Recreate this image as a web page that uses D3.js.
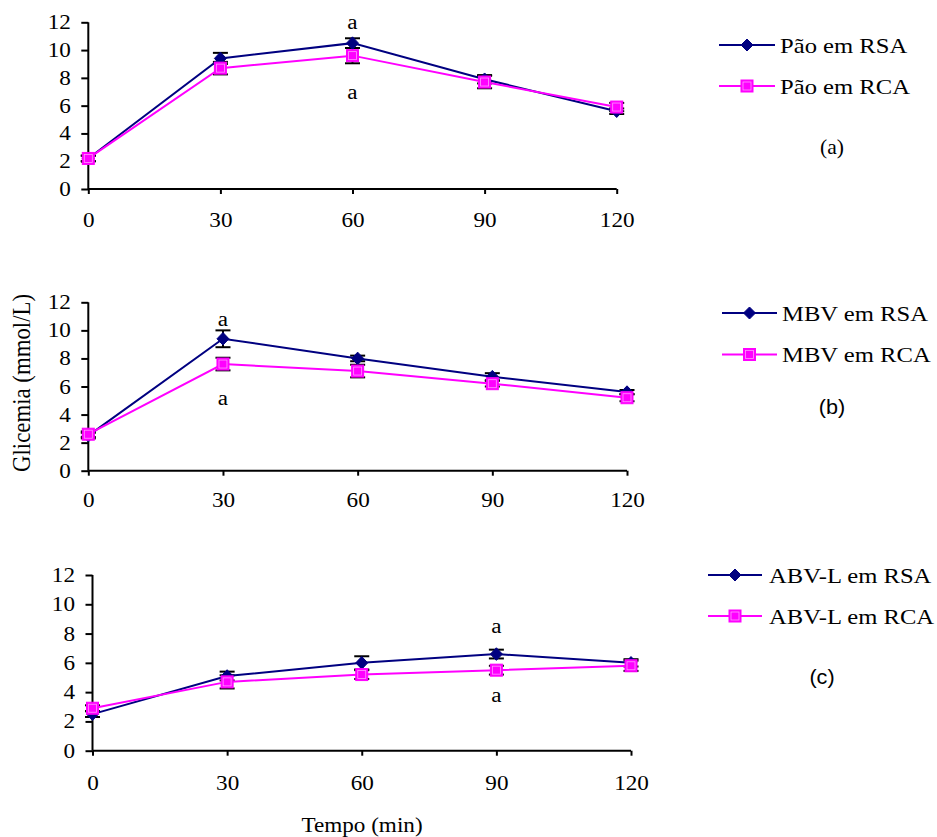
<!DOCTYPE html>
<html>
<head>
<meta charset="utf-8">
<script src="https://cdn.jsdelivr.net/npm/d3@7"></script>
<style>
  html, body { margin: 0; padding: 0; background: #fff; }
  svg { display: block; }
</style>
</head>
<body>
<svg id="chart" width="937" height="837"></svg>
<script>
// Sampling times (min) and value ticks
const times = [0, 30, 60, 90, 120];
const yTicks = [0, 2, 4, 6, 8, 10, 12];

// Panel (a): bread
const paoRSA = [2.2, 9.4, 10.5, 7.9, 5.6];
const paoRSAErr = [0.2, 0.4, 0.35, 0.3, 0.2];
const paoRCA = [2.2, 8.7, 9.6, 7.7, 5.9];
const paoRCAErr = [0.2, 0.45, 0.55, 0.45, 0.3];

// Panel (b): MBV
const mbvRSA = [2.5, 9.4, 8.0, 6.7, 5.6];
const mbvRSAErr = [0.2, 0.6, 0.2, 0.25, 0.15];
const mbvRCA = [2.6, 7.6, 7.1, 6.2, 5.2];
const mbvRCAErr = [0.2, 0.45, 0.45, 0.2, 0.25];

// Panel (c): ABV-L
const abvRSA = [2.5, 5.1, 6.0, 6.6, 6.0];
const abvRSAErr = [0.2, 0.3, 0.45, 0.3, 0.25];
const abvRCA = [2.9, 4.7, 5.2, 5.5, 5.8];
const abvRCAErr = [0.2, 0.45, 0.3, 0.3, 0.35];

const legendLabels = [
  ["Pão em RSA", "Pão em RCA"],
  ["MBV em RSA", "MBV em RCA"],
  ["ABV-L em RSA", "ABV-L em RCA"]
];
const panelTags = ["(a)", "(b)", "(c)"];
// significance marks: index of the time point carrying the "a"
const markIndex = [2, 1, 3];

const NAVY = "#000080", MAGENTA = "#ff00ff";
const SERIF = "'Liberation Serif', 'Times New Roman', serif";
const SANS = "'Liberation Sans', Arial, sans-serif";
const SX = 1.13;      // horizontal stretch of the lettering
const FS = 20.5;      // base font size

const svg = d3.select("#chart");

const panels = [
  { rsa: paoRSA, rsaE: paoRSAErr, rca: paoRCA, rcaE: paoRCAErr,
    x0: 88.3, x1: 616.7, yTop: 22.3, yBot: 189, xPad: 18,
    leg: { x1: 719, x2: 775, y: 45, gap: 41, tx: 780 }, tag: { x: 832, y: 147, font: SERIF },
    up: 20.5, down: 37 },
  { rsa: mbvRSA, rsaE: mbvRSAErr, rca: mbvRCA, rcaE: mbvRCAErr,
    x0: 88.3, x1: 627, yTop: 302.3, yBot: 470.7, xPad: 17,
    leg: { x1: 722, x2: 777, y: 313, gap: 41.5, tx: 782 }, tag: { x: 832, y: 407, font: SANS },
    up: 19, down: 34 },
  { rsa: abvRSA, rsaE: abvRSAErr, rca: abvRCA, rcaE: abvRCAErr,
    x0: 92.5, x1: 631, yTop: 575, yBot: 750.7, xPad: 20,
    leg: { x1: 708, x2: 762, y: 575, gap: 41, tx: 769 }, tag: { x: 822, y: 677, font: SANS },
    up: 27.5, down: 25 }
];

function diamond(g, x, y, w, h) {
  g.append("path")
    .attr("d", `M${x},${y - h}L${x + w},${y}L${x},${y + h}L${x - w},${y}Z`)
    .attr("fill", NAVY).attr("stroke", NAVY).attr("stroke-width", 1);
}
function square(g, x, y, w, h) {
  g.append("rect").attr("x", x - w).attr("y", y - h).attr("width", 2 * w).attr("height", 2 * h)
    .attr("fill", MAGENTA).attr("stroke", MAGENTA).attr("stroke-width", 1);
  g.append("rect").attr("x", x - w + 2).attr("y", y - h + 2).attr("width", 2 * w - 4).attr("height", 2 * h - 4)
    .attr("fill", "none").attr("stroke", "#ff99ff").attr("stroke-width", 0.8);
}

panels.forEach((p, pi) => {
  const x = d3.scaleLinear().domain([0, 120]).range([p.x0, p.x1]);
  const y = d3.scaleLinear().domain([0, 12]).range([p.yBot, p.yTop]);
  const g = svg.append("g");

  // axes
  const yAxis = d3.axisLeft(y).tickValues(yTicks).tickSize(7).tickSizeOuter(0);
  const xAxis = d3.axisBottom(x).tickValues(times).tickSize(5).tickPadding(p.xPad).tickSizeOuter(0);
  const ya = g.append("g").attr("transform", `translate(${p.x0},0)`).call(yAxis);
  const xa = g.append("g").attr("transform", `translate(0,${p.yBot})`).call(xAxis);
  [ya, xa].forEach(a => {
    a.selectAll("path, line").attr("stroke", "#000").attr("stroke-width", 2);
    a.selectAll("text").attr("font-family", SERIF).attr("font-size", FS).attr("fill", "#000")
      .attr("transform", `scale(${SX},1)`);
  });
  ya.selectAll("text").attr("x", -17.5 / SX);
  ya.select(".domain").attr("d", `M0,${p.yTop}V${p.yBot}`);
  xa.select(".domain").attr("d", `M${p.x0},0H${p.x1}`);

  const series = [
    { v: p.rsa, e: p.rsaE, color: NAVY, mark: diamond, w: 6, h: 6.3 },
    { v: p.rca, e: p.rcaE, color: MAGENTA, mark: square, w: 6, h: 6 }
  ];

  // error bars
  series.forEach(s => {
    s.v.forEach((v, i) => {
      const cx = x(times[i]);
      const eg = g.append("g").attr("stroke", "#000").attr("stroke-width", 2);
      eg.append("line").attr("x1", cx).attr("x2", cx).attr("y1", y(v - s.e[i])).attr("y2", y(v + s.e[i]));
      [v - s.e[i], v + s.e[i]].forEach(t => {
        eg.append("line").attr("x1", cx - 7.5).attr("x2", cx + 7.5).attr("y1", y(t)).attr("y2", y(t));
      });
    });
  });

  // lines and markers
  series.forEach(s => {
    const line = d3.line().x((d, i) => x(times[i])).y(d => y(d));
    g.append("path").datum(s.v).attr("d", line)
      .attr("fill", "none").attr("stroke", s.color).attr("stroke-width", 2);
  });
  series.forEach(s => {
    s.v.forEach((v, i) => s.mark(g, x(times[i]), y(v), s.w, s.h));
  });

  // significance letters
  const mi = markIndex[pi];
  [y(p.rsa[mi]) - p.up, y(p.rca[mi]) + p.down].forEach(ty => {
    g.append("text").attr("transform", `translate(${x(times[mi])},${ty}) scale(${SX},1)`)
      .attr("text-anchor", "middle").attr("dominant-baseline", "central")
      .attr("font-family", SERIF).attr("font-size", FS).text("a");
  });

  // legend
  series.forEach((s, k) => {
    const ly = p.leg.y + k * p.leg.gap;
    g.append("line").attr("x1", p.leg.x1).attr("x2", p.leg.x2).attr("y1", ly).attr("y2", ly)
      .attr("stroke", s.color).attr("stroke-width", 2);
    s.mark(g, (p.leg.x1 + p.leg.x2) / 2, ly, 6, 6);
    g.append("text").attr("transform", `translate(${p.leg.tx},${ly}) scale(1.12,1)`)
      .attr("dominant-baseline", "central")
      .attr("font-family", SERIF).attr("font-size", 22).text(legendLabels[pi][k]);
  });
  g.append("text").attr("transform", `translate(${p.tag.x},${p.tag.y}) scale(1.08,1)`)
    .attr("text-anchor", "middle").attr("dominant-baseline", "central")
    .attr("font-family", p.tag.font).attr("font-size", 20).text(panelTags[pi]);
});

// shared axis titles
svg.append("text").attr("transform", `translate(30,383) scale(${SX},1) rotate(-90)`)
  .attr("text-anchor", "middle").attr("font-family", SERIF).attr("font-size", 22)
  .attr("textLength", 178).attr("lengthAdjust", "spacingAndGlyphs")
  .text("Glicemia (mmol/L)");
svg.append("text").attr("transform", `translate(362,832) scale(${SX},1)`)
  .attr("text-anchor", "middle").attr("font-family", SERIF).attr("font-size", FS)
  .text("Tempo (min)");
</script>
</body>
</html>
